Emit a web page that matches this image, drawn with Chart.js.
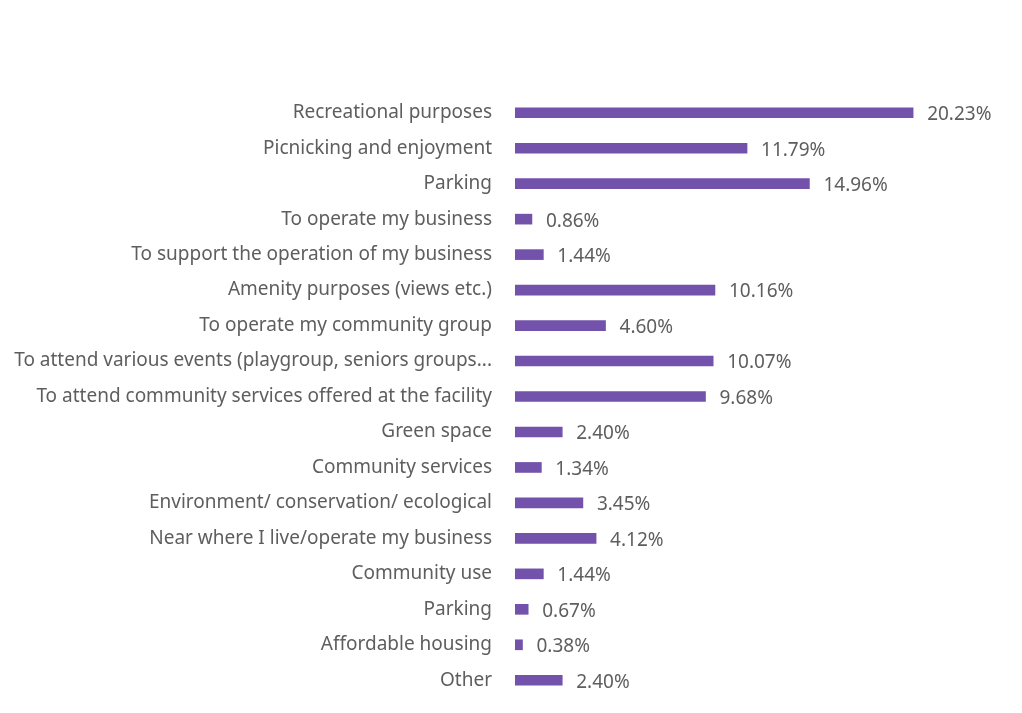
<!DOCTYPE html>
<html>
<head>
<meta charset="utf-8">
<script src="https://cdn.jsdelivr.net/npm/chart.js@4"></script>
<style>
  html, body { margin: 0; padding: 0; background: #fff; overflow: hidden; }
</style>
</head>
<body>
<canvas id="chart" width="1022" height="713"></canvas>
<script>
const categories = [
  "Recreational purposes",
  "Picnicking and enjoyment",
  "Parking",
  "To operate my business",
  "To support the operation of my business",
  "Amenity purposes (views etc.)",
  "To operate my community group",
  "To attend various events (playgroup, seniors groups...",
  "To attend community services offered at the facility",
  "Green space",
  "Community services",
  "Environment/ conservation/ ecological",
  "Near where I live/operate my business",
  "Community use",
  "Parking",
  "Affordable housing",
  "Other"
];
const shares = [20.23, 11.79, 14.96, 0.86, 1.44, 10.16, 4.60, 10.07, 9.68, 2.40, 1.34, 3.45, 4.12, 1.44, 0.67, 0.38, 2.40];

const barColor = "#7352ab";
const textColor = "#5e5e5e";
const fontFamily = "'Noto Sans', 'Open Sans', sans-serif";

// value text drawn just past the end of each bar
const valueLabels = {
  id: "valueLabels",
  afterDatasetsDraw(chart) {
    const ctx = chart.ctx;
    const meta = chart.getDatasetMeta(0);
    ctx.save();
    ctx.font = "19px " + fontFamily;
    ctx.fillStyle = textColor;
    ctx.textBaseline = "middle";
    meta.data.forEach((bar, i) => {
      ctx.fillText(shares[i].toFixed(2) + "%", bar.x + 14, bar.y + 2);
    });
    ctx.restore();
  }
};

new Chart(document.getElementById("chart"), {
  type: "bar",
  data: {
    labels: categories,
    datasets: [{
      data: shares,
      backgroundColor: barColor,
      barThickness: 10,
      borderWidth: 0
    }]
  },
  options: {
    indexAxis: "y",
    responsive: false,
    animation: false,
    layout: { padding: { top: 95, bottom: 15, left: 0, right: 15 } },
    plugins: {
      legend: { display: false },
      tooltip: { enabled: false }
    },
    scales: {
      x: { display: false, min: 0, max: 25 },
      y: {
        // invisible tick marks keep the labels clear of the bars
        grid: { drawOnChartArea: false, tickLength: 23, color: "rgba(0,0,0,0)" },
        border: { display: false },
        afterFit: s => { s.width = 515; },
        ticks: {
          padding: 0,
          color: textColor,
          font: { family: fontFamily, size: 19 }
        }
      }
    }
  },
  plugins: [valueLabels]
});
</script>
</body>
</html>
